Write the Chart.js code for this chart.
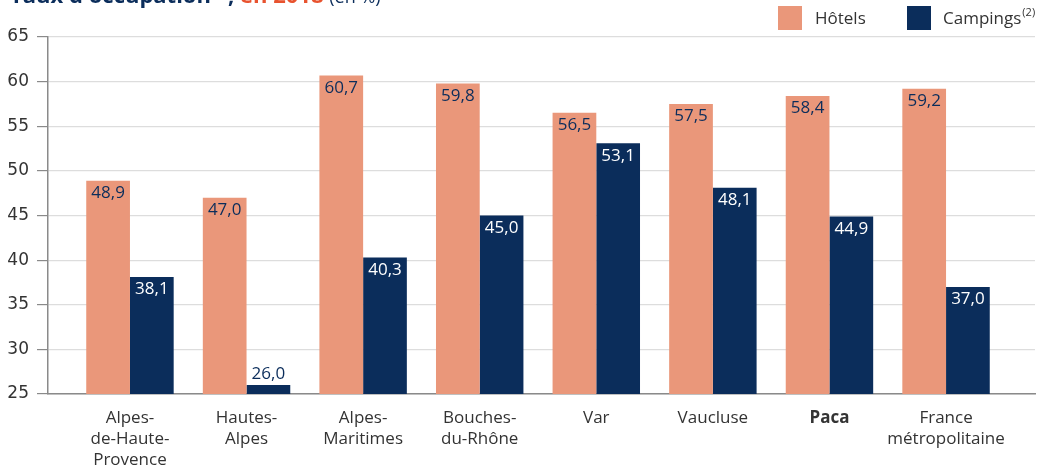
<!DOCTYPE html>
<html>
<head>
<meta charset="utf-8">
<script src="https://cdn.jsdelivr.net/npm/chart.js@4"></script>
<style>
  html, body { margin: 0; padding: 0; background: #fff; }
  #wrap { width: 1045px; height: 470px; }
</style>
</head>
<body>
<div id="wrap"><canvas id="chart" width="1045" height="470"></canvas></div>
<script>
// taux d'occupation 2018 (en %)
const regions = [
  ['Alpes-', 'de-Haute-', 'Provence'],
  ['Hautes-', 'Alpes'],
  ['Alpes-', 'Maritimes'],
  ['Bouches-', 'du-Rhône'],
  ['Var'],
  ['Vaucluse'],
  ['Paca'],
  ['France', 'métropolitaine']
];
const hotels = [48.9, 47.0, 60.7, 59.8, 56.5, 57.5, 58.4, 59.2];
const campings = [38.1, 26.0, 40.3, 45.0, 53.1, 48.1, 44.9, 37.0];
const yTicks = [25, 30, 35, 40, 45, 50, 55, 60, 65];

const navy = '#0b2d5b';
const salmon = '#ea977a';
const fmt = v => v.toFixed(1).replace('.', ',');

const titlePlugin = {
  id: 'titre',
  beforeDraw(chart) {
    const c = chart.ctx;
    c.save();
    c.textBaseline = 'alphabetic';
    let x = 10;
    const y = 3;
    c.font = 'bold 22px "Open Sans"';
    c.fillStyle = navy;
    c.fillText("Taux d'occupation", x, y);
    x += c.measureText("Taux d'occupation").width + 2;
    c.font = '13px "Open Sans"';
    c.fillText('(1)', x, y - 9);
    x += c.measureText('(1)').width;
    c.font = 'bold 22px "Open Sans"';
    c.fillText(',', x, y);
    x += c.measureText(', ').width;
    c.fillStyle = '#e8532f';
    c.fillText('en 2018', x, y);
    x += c.measureText('en 2018 ').width;
    c.fillStyle = navy;
    c.font = '18px "Open Sans"';
    c.fillText('(en %)', x, y);
    c.restore();
  }
};

// légende en haut à droite
const legendPlugin = {
  id: 'legende',
  afterDraw(chart) {
    const c = chart.ctx;
    c.save();
    c.textBaseline = 'middle';
    c.fillStyle = salmon;
    c.fillRect(778, 6, 24, 24);
    c.fillStyle = navy;
    c.fillRect(907, 6, 24, 24);
    c.fillStyle = '#333';
    c.font = '17px "Open Sans"';
    c.fillText('Hôtels', 815, 19);
    c.fillText('Campings', 943, 19);
    const w = c.measureText('Campings').width;
    c.font = '11px "Open Sans"';
    c.fillText('(2)', 943 + w + 1, 13);
    c.restore();
  }
};

const labelPlugin = {
  id: 'valeurs',
  afterDatasetsDraw(chart) {
    const c = chart.ctx;
    const base = chart.scales.y.getPixelForValue(25);
    c.save();
    c.font = '17px "Open Sans"';
    c.textAlign = 'center';
    chart.data.datasets.forEach((ds, di) => {
      chart.getDatasetMeta(di).data.forEach((bar, i) => {
        const txt = fmt(ds.data[i].y);
        const h = base - bar.y;
        if (h < 28) {
          c.fillStyle = navy;
          c.textBaseline = 'bottom';
          c.fillText(txt, bar.x, bar.y - 2);
        } else {
          c.fillStyle = di === 0 ? navy : '#ffffff';
          c.textBaseline = 'top';
          c.fillText(txt, bar.x, bar.y + 4);
        }
      });
    });
    c.restore();
  }
};

new Chart(document.getElementById('chart'), {
  type: 'bar',
  data: {
    datasets: [
      { label: 'Hôtels', data: hotels.map((v, i) => ({ x: i, y: v })), backgroundColor: salmon },
      { label: 'Campings', data: campings.map((v, i) => ({ x: i, y: v })), backgroundColor: navy }
    ]
  },
  options: {
    responsive: false,
    animation: false,
    events: [],
    layout: { padding: { left: 0, right: 10, top: 37, bottom: 0 } },
    categoryPercentage: 0.75,
    barPercentage: 1.0,
    plugins: {
      tooltip: { enabled: false },
      legend: { display: false }
    },
    scales: {
      x: {
        type: 'linear',
        offset: false,
        min: -0.703,
        max: 7.763,
        afterBuildTicks: s => { s.ticks = regions.map((_, i) => ({ value: i })); },
        afterFit: s => { s.height = 76; },
        grid: { display: false },
        border: { color: '#8a8a8a', width: 1.5 },
        ticks: {
          autoSkip: false,
          maxRotation: 0,
          padding: 6,
          color: '#333',
          font: ctx => ({ family: '"Open Sans"', size: 17, lineHeight: 1.22,
            weight: ctx.tick && ctx.tick.value === 6 ? 'bold' : 'normal' }),
          callback: v => regions[v]
        }
      },
      y: {
        min: 25,
        max: 65,
        afterBuildTicks: s => { s.ticks = yTicks.map(v => ({ value: v })); },
        afterFit: s => { s.width = 48; },
        grid: { color: '#dddddd', tickColor: '#8a8a8a', tickLength: 11, lineWidth: 1.2 },
        border: { color: '#8a8a8a', width: 1.5 },
        ticks: {
          padding: 8,
          color: '#333',
          font: { family: '"DejaVu Sans"', size: 17 }
        }
      }
    }
  },
  plugins: [titlePlugin, legendPlugin, labelPlugin]
});
</script>
</body>
</html>
